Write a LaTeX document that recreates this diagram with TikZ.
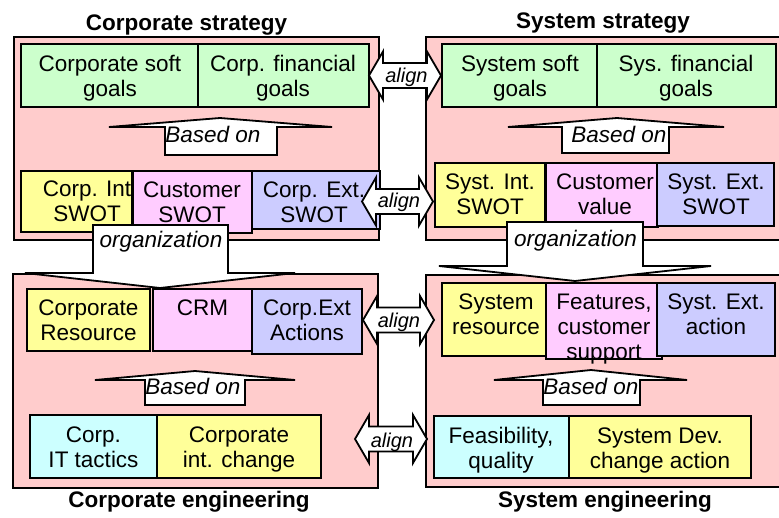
\documentclass[tikz,border=0pt]{standalone}
\usepackage{fontspec}
\setmainfont{Liberation Sans}
\definecolor{panel}{HTML}{FFCCCC}
\definecolor{cgreen}{HTML}{CCFFCC}
\definecolor{cyellow}{HTML}{FFFF99}
\definecolor{cpink}{HTML}{FFCCFF}
\definecolor{cblue}{HTML}{CCCCFF}
\definecolor{ccyan}{HTML}{CCFFFF}
\newcommand{\st}{\rule[-6.2pt]{0pt}{28.2pt}}
\newcommand{\alignarr}[3]{%
  \path[arr] (#1,#3) -- (#1+14,#3-24) -- (#1+14,#3-12.5) -- (#2-14,#3-12.5) -- (#2-14,#3-24) -- (#2,#3)
    -- (#2-14,#3+24) -- (#2-14,#3+12.5) -- (#1+14,#3+12.5) -- (#1+14,#3+24) -- cycle;}
\setlength{\lineskiplimit}{-50pt}
\begin{document}
\begin{tikzpicture}[x=1pt,y=-1pt,
  panelbox/.style={fill=panel,draw=black,line width=2.6pt},
  box/.style={draw=black,line width=2.2pt},
  txt/.style={inner sep=0pt,align=center,font=\fontsize{22.5}{25}\selectfont},
  ttl/.style={inner sep=0pt,anchor=base,font=\fontsize{22.5}{25}\selectfont\bfseries},
  arr/.style={fill=white,draw=black,line width=1.8pt,line join=miter},
  itl/.style={inner sep=0pt,anchor=base,font=\fontsize{22.5}{25}\selectfont\itshape},
  alg/.style={inner sep=0pt,anchor=base,font=\fontsize{20}{24}\selectfont\itshape}]
\useasboundingbox (0,0) rectangle (779,518);
\clip (0,0) rectangle (779,518);
\fill[white] (0,0) rectangle (779,518);

% panels
\path[panelbox] (14,37) rectangle (379,240);
\path[panelbox] (426,37) rectangle (790,240);
\path[panelbox] (13,274) rectangle (378,488);
\path[panelbox] (426,275) rectangle (790,487);

% ---- Corporate strategy
\path[box,fill=cgreen] (21,44) rectangle (198,107);
\path[box,fill=cgreen] (198,44) rectangle (369,107);
\node[txt] (csg) at (110,76.3) {\st Corporate soft\\\st goals};
\node[txt] (cfg) at (283,76.3) {\st Corp. financial\\\st goals};
\path[box,fill=cyellow] (21,171) rectangle (132,232);
\node[txt] (cis) at (87,201.6) {\st Corp. Int\\\st SWOT};
\path[box,fill=cpink] (133,171) rectangle (252,233);
\node[txt] (cus) at (192,202.6) {\st Customer\\\st SWOT};
\path[box,fill=cblue] (252,171) rectangle (380,229);
\node[txt] (ces) at (314,202) {\st Corp. Ext.\\\st SWOT};

% ---- System strategy
\path[box,fill=cgreen] (442,44) rectangle (597,107);
\path[box,fill=cgreen] (597,44) rectangle (776,107);
\node[txt] (ssg) at (520,76.3) {\st System soft\\\st goals};
\node[txt] (sfg) at (686,76.3) {\st Sys. financial\\\st goals};
\path[box,fill=cyellow] (435,163) rectangle (545,227);
\node[txt] (sis) at (490,194.6) {\st Syst. Int.\\\st SWOT};
\path[box,fill=cpink] (546,163) rectangle (658,227);
\node[txt] (scv) at (605,194.6) {\st Customer\\\st value};
\path[box,fill=cblue] (657,163) rectangle (774,226);
\node[txt] (ses) at (716,194.6) {\st Syst. Ext.\\\st SWOT};

% ---- Corporate engineering
\path[box,fill=cyellow] (27,289) rectangle (150,351);
\node[txt] (cres) at (88.5,320.6) {\st Corporate\\\st Resource};
\path[box,fill=cpink] (153,289) rectangle (252,351);
\node[txt] (crm) at (202.5,308.1) {\st CRM};
\path[box,fill=cblue] (252,289) rectangle (362,354);
\node[txt] (cea) at (307,320.6) {\st Corp.Ext\\\st Actions};
\path[box,fill=ccyan] (30,415) rectangle (157,478);
\node[txt] (cit) at (93.5,446.6) {\st Corp.\\\st IT tactics};
\path[box,fill=cyellow] (157,415) rectangle (321,478);
\node[txt] (cic) at (239,446.6) {\st Corporate\\\st int. change};

% ---- System engineering
\path[box,fill=cyellow] (442,283) rectangle (546,356);
\node[txt] (sres) at (496,314.3) {\st System\\\st resource};
\path[box,fill=cpink] (546,283) rectangle (662,359);
\node[txt] (sfc) at (604,326.8) {\st Features,\\\st customer\\\st support};
\path[box,fill=cblue] (657,283) rectangle (775,356);
\node[txt] (sea) at (716,314.3) {\st Syst. Ext.\\\st action};
\path[box,fill=ccyan] (434,416) rectangle (569,478);
\node[txt] (sfq) at (501,447.6) {\st Feasibility,\\\st quality};
\path[box,fill=cyellow] (569,416) rectangle (751,478);
\node[txt] (sdc) at (660,447.6) {\st System Dev.\\\st change action};

% ---- organization arrows
\path[arr] (93,225) -- (228,225) -- (228,273) -- (295,273) -- (160,288) -- (25,273) -- (93,273) -- cycle;
\node[itl] (org1) at (161,248) {organization};
\path[arr] (507,222) -- (643,222) -- (643,266) -- (711,266) -- (575,281) -- (439,266) -- (507,266) -- cycle;
\node[itl] (org2) at (575.5,247) {organization};

% ---- based on arrows
\path[arr] (165,155) -- (165,127) -- (109,127) -- (220,118) -- (332,127) -- (277,127) -- (277,155) -- cycle;
\node[itl] (bo1) at (213,143) {Based on};
\path[arr] (562,153) -- (562,127) -- (508,127) -- (617,118) -- (724,127) -- (669,127) -- (669,153) -- cycle;
\node[itl] (bo2) at (619,143) {Based on};
\path[arr] (145,405) -- (145,380) -- (95,380) -- (195,371) -- (295,380) -- (245,380) -- (245,405) -- cycle;
\node[itl] (bo3) at (193,395) {Based on};
\path[arr] (543,405) -- (543,380) -- (494,380) -- (591,370) -- (687,380) -- (640,380) -- (640,405) -- cycle;
\node[itl] (bo4) at (591,395) {Based on};

% ---- align arrows
\alignarr{369}{441}{75.5}
\node[alg] (al1) at (406.5,83) {align};
\alignarr{362}{433}{201.5}
\node[alg] (al2) at (399,208) {align};
\alignarr{363}{434}{320}
\node[alg] (al3) at (399,328) {align};
\alignarr{355}{427}{439}
\node[alg] (al4) at (392,447) {align};

% ---- titles
\node[ttl] (t1) at (186.5,31) {Corporate strategy};
\node[ttl] (t2) at (603,29) {System strategy};
\node[ttl] (t3) at (189,507) {Corporate engineering};
\node[ttl] (t4) at (605,507) {System engineering};
\end{tikzpicture}
\end{document}
